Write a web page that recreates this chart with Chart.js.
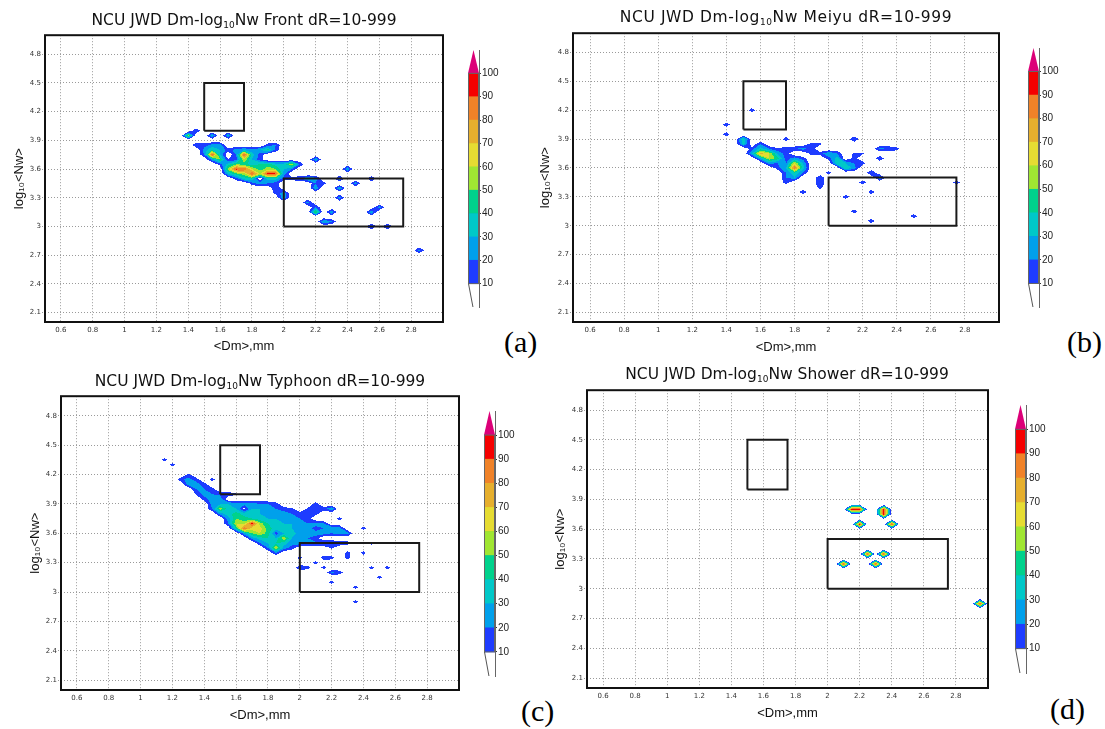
<!DOCTYPE html>
<html><head><meta charset="utf-8">
<script src="https://cdn.jsdelivr.net/npm/chart.js@4.4.1/dist/chart.umd.min.js"></script>
<style>
html,body{margin:0;padding:0;background:#fff;}
body{width:1105px;height:729px;position:relative;overflow:hidden;}
canvas{position:absolute;}
.title{position:absolute;white-space:nowrap;font-family:'DejaVu Sans',sans-serif;font-size:15.5px;color:#111;transform:translate(-50%,-50%);line-height:1;}
.title sub{font-size:9px;vertical-align:-3px;line-height:0;}
.tag{position:absolute;font-family:'Liberation Serif','Times New Roman',serif;font-size:30px;line-height:30px;color:#000;white-space:nowrap;}
</style></head><body>
<script>
// ---------- data ----------
const xTickValues = [0.6,0.8,1,1.2,1.4,1.6,1.8,2,2.2,2.4,2.6,2.8];
const yTickValues = [2.1,2.4,2.7,3,3.3,3.6,3.9,4.2,4.5,4.8];
const colorLevels = [10,20,30,40,50,60,70,80,90,100];
const levelColors = ['rgb(30,60,255)','rgb(0,160,235)','rgb(0,200,200)','rgb(0,210,140)','rgb(160,230,50)',
                     'rgb(230,220,50)','rgb(230,175,45)','rgb(240,130,40)','rgb(245,0,0)','rgb(220,0,120)'];
const boxUpper = [[1.5,4.0],[1.75,4.0],[1.75,4.5],[1.5,4.5],[1.5,4.0]];
const boxLower = [[2.0,3.0],[2.75,3.0],[2.75,3.5],[2.0,3.5],[2.0,3.0]];

// [Dm, log10Nw, percentage]
const frontCells = [
[1.40,3.95,55],[1.45,4.00,20],[1.55,3.95,30],[1.65,3.95,30],[1.45,3.85,20],
[1.50,3.85,15],[1.55,3.85,25],[1.60,3.85,25],[1.90,3.85,15],[1.95,3.85,20],
[1.50,3.80,25],[1.55,3.80,40],[1.60,3.80,30],[1.65,3.80,15],[1.70,3.80,25],[1.75,3.80,30],[1.80,3.80,25],[1.85,3.80,30],[1.90,3.80,45],[1.95,3.80,15],
[1.50,3.75,20],[1.55,3.75,95],[1.60,3.75,30],[1.70,3.75,20],[1.75,3.75,95],[1.80,3.75,35],[1.85,3.75,15],
[1.55,3.70,25],[1.60,3.70,50],[1.65,3.70,10],[1.70,3.70,15],[1.75,3.70,60],[1.80,3.70,30],[1.85,3.70,15],
[1.60,3.65,15],[1.65,3.65,35],[1.70,3.65,50],[1.75,3.65,45],[1.80,3.65,35],[1.85,3.65,40],[1.90,3.65,45],[1.95,3.65,35],[2.00,3.65,35],[2.05,3.65,60],[2.10,3.65,20],
[1.65,3.60,55],[1.70,3.60,95],[1.75,3.60,92],[1.80,3.60,60],[1.85,3.60,45],[1.90,3.60,55],[1.95,3.60,50],[2.00,3.60,30],[2.05,3.60,20],
[1.65,3.55,30],[1.70,3.55,45],[1.75,3.55,55],[1.80,3.55,92],[1.85,3.55,60],[1.90,3.55,98],[1.95,3.55,92],[2.00,3.55,25],
[1.70,3.50,15],[1.75,3.50,35],[1.80,3.50,40],[1.90,3.50,35],[1.95,3.50,35],[2.00,3.50,15],[2.05,3.50,15],[2.10,3.50,20],[2.15,3.50,30],[2.20,3.50,25],
[1.80,3.45,15],[1.85,3.45,25],[1.90,3.45,20],[1.95,3.45,15],[2.20,3.45,20],[2.25,3.45,15],
[1.95,3.40,20],[2.20,3.40,30],[1.95,3.35,15],[2.00,3.35,25],[2.00,3.30,30],
[2.20,3.70,30],[2.40,3.60,30],[2.35,3.50,25],[2.45,3.45,25],[2.55,3.50,22],[2.35,3.40,30],[2.35,3.30,25],
[2.15,3.25,25],[2.20,3.20,20],[2.20,3.15,55],[2.30,3.15,30],[2.25,3.05,30],[2.30,3.05,22],
[2.55,3.15,30],[2.60,3.20,25],[2.55,3.00,25],[2.65,3.00,25],[2.85,2.75,25]
];
const meiyuCells = [
[1.55,4.20,17],[1.40,4.05,17],[1.40,3.95,17],[1.50,3.90,40],[1.50,3.85,35],[1.75,3.90,17],[2.15,3.90,22],
[1.60,3.85,20],[1.90,3.85,14],[1.95,3.85,13],
[1.55,3.80,15],[1.60,3.80,35],[1.65,3.80,20],[1.70,3.80,12],[1.75,3.80,15],[1.80,3.80,18],[1.85,3.80,25],[1.90,3.80,15],
[1.55,3.75,30],[1.60,3.75,75],[1.65,3.75,60],[1.70,3.75,30],[1.75,3.75,15],[1.90,3.75,15],[1.95,3.75,15],[2.00,3.75,30],[2.05,3.75,20],[2.15,3.75,12],[2.20,3.75,12],
[1.60,3.70,30],[1.65,3.70,60],[1.70,3.70,45],[1.75,3.70,15],[1.80,3.70,25],[1.85,3.70,15],[2.00,3.70,15],[2.05,3.70,35],[2.15,3.70,15],
[1.65,3.65,25],[1.70,3.65,20],[1.75,3.65,20],[1.80,3.65,60],[1.85,3.65,30],[2.05,3.65,40],[2.10,3.65,30],[2.15,3.65,20],[2.20,3.65,15],
[1.70,3.60,15],[1.75,3.60,30],[1.80,3.60,90],[1.85,3.60,35],[2.10,3.60,40],[2.15,3.60,25],
[1.75,3.55,20],[1.80,3.55,40],[1.85,3.55,20],[2.00,3.55,15],
[1.75,3.50,20],[1.80,3.50,30],[1.95,3.50,20],[1.75,3.45,15],[1.95,3.45,20],[1.95,3.40,15],
[2.30,3.80,22],[2.35,3.80,20],[2.40,3.80,15],[2.30,3.70,20],[2.25,3.55,22],[2.30,3.50,28],
[1.85,3.35,17],[2.20,3.45,17],[2.25,3.35,17],[2.10,3.30,17],[2.15,3.15,17],[2.25,3.05,17],[2.50,3.10,17],[2.75,3.45,17]
];
const typhoonCells = [
[1.15,4.35,15],[1.20,4.30,15],[1.45,4.15,15],
[1.25,4.15,15],[1.30,4.20,12],[1.30,4.15,25],[1.30,4.10,25],[1.35,4.15,15],[1.35,4.10,25],[1.35,4.05,20],[1.35,4.00,12],[1.40,4.10,15],[1.40,4.05,20],[1.40,4.00,25],[1.40,3.95,15],
[1.45,4.05,15],[1.45,4.00,20],[1.45,3.95,25],[1.50,3.95,25],[1.50,4.00,18],[1.55,4.00,18],[1.60,4.00,12],
[1.45,3.90,25],[1.50,3.90,30],[1.55,3.90,30],[1.60,3.90,25],[1.65,3.90,25],[1.70,3.90,25],[1.75,3.90,20],[1.80,3.90,20],[1.85,3.90,15],[2.10,3.90,15],
[1.45,3.85,20],[1.50,3.85,55],[1.55,3.85,35],[1.60,3.85,30],[1.65,3.85,5],[1.70,3.85,30],[1.75,3.85,30],[1.80,3.85,25],[1.85,3.85,20],[1.90,3.85,15],[1.95,3.85,12],[2.05,3.85,12],[2.10,3.85,15],[2.15,3.85,15],[2.20,3.85,30],
[1.50,3.80,25],[1.55,3.80,35],[1.60,3.80,45],[1.65,3.80,35],[1.70,3.80,35],[1.75,3.80,30],[1.80,3.80,25],[1.85,3.80,25],[1.90,3.80,25],[1.95,3.80,20],[2.00,3.80,15],[2.05,3.80,20],[2.10,3.80,15],
[1.55,3.75,25],[1.60,3.75,50],[1.65,3.75,45],[1.70,3.75,40],[1.75,3.75,35],[1.80,3.75,30],[1.85,3.75,30],[1.90,3.75,25],[1.95,3.75,25],[2.00,3.75,20],[2.05,3.75,15],[2.25,3.75,15],
[1.55,3.70,20],[1.60,3.70,60],[1.65,3.70,55],[1.70,3.70,95],[1.75,3.70,55],[1.80,3.70,40],[1.85,3.70,30],[1.90,3.70,30],[1.95,3.70,30],[2.00,3.70,25],[2.05,3.70,20],[2.10,3.70,25],[2.15,3.70,20],
[1.60,3.65,40],[1.65,3.65,90],[1.70,3.65,65],[1.75,3.65,65],[1.80,3.65,45],[1.85,3.65,35],[1.90,3.65,30],[1.95,3.65,30],[2.00,3.65,25],[2.05,3.65,25],[2.10,3.65,15],[2.15,3.65,20],[2.20,3.65,30],[2.25,3.65,25],
[1.65,3.60,25],[1.70,3.60,50],[1.75,3.60,60],[1.80,3.60,45],[1.85,3.60,15],[1.90,3.60,30],[1.95,3.60,35],[2.00,3.60,25],[2.05,3.60,20],[2.10,3.60,25],[2.15,3.60,25],[2.20,3.60,20],[2.25,3.60,25],[2.30,3.60,25],
[1.70,3.55,25],[1.75,3.55,35],[1.80,3.55,40],[1.85,3.55,30],[1.90,3.55,60],[1.95,3.55,30],[2.00,3.55,25],[2.05,3.55,20],[2.10,3.55,15],
[1.75,3.50,20],[1.80,3.50,30],[1.85,3.50,40],[1.90,3.50,35],[1.95,3.50,25],[2.00,3.50,25],[2.05,3.50,22],[2.10,3.50,22],[2.15,3.50,25],[2.20,3.50,22],[2.25,3.50,20],[2.30,3.50,15],
[1.80,3.45,20],[1.85,3.45,60],[1.90,3.45,25],[1.95,3.45,15],[2.20,3.45,12],[1.85,3.40,20],
[2.40,3.65,15],[2.45,3.50,15],[2.00,3.35,15],[2.15,3.35,17],[2.20,3.35,15],[2.30,3.40,15],[2.30,3.35,15],[2.40,3.40,15],
[2.00,3.25,20],[2.05,3.25,15],[2.10,3.30,15],[2.15,3.25,15],[2.20,3.20,22],[2.25,3.20,16],[2.20,3.10,15],
[2.45,3.25,15],[2.55,3.25,15],[2.50,3.15,15],[2.35,3.05,15],[2.35,2.90,15]
];
const showerCells = [
[2.15,3.80,98],[2.20,3.80,98],[2.35,3.80,98],[2.35,3.75,98],[2.20,3.65,98],[2.40,3.65,98],
[2.25,3.35,98],[2.35,3.35,98],[2.10,3.25,98],[2.30,3.25,98],[2.95,2.85,98]
];
const panelNames = ['Front','Meiyu','Typhoon','Shower'];
const panelCells = [frontCells, meiyuCells, typhoonCells, showerCells];
const panelTags = ['(a)','(b)','(c)','(d)'];

// ---------- layout (positions only) ----------
const layouts = [
 {L:45, R:443, T:34, B:322, wY:33, hX:32, bar:{left:468, top:47, bottom:310}, title:{x:244,y:21,ls:0}, tag:{x:504,y:327}},
 {L:573,R:999, T:32, B:322, wY:35, hX:33, bar:{left:1028,top:45, bottom:310}, title:{x:786,y:18,ls:0.6}, tag:{x:1067,y:327}},
 {L:61, R:459, T:395,B:690, wY:33, hX:33, bar:{left:484, top:408,bottom:679}, title:{x:260,y:382,ls:0}, tag:{x:521,y:696}},
 {L:587,R:988, T:389,B:688, wY:34, hX:33, bar:{left:1015,top:402,bottom:676}, title:{x:787,y:375,ls:0}, tag:{x:1050,y:694}}
];

// ---------- helpers ----------
const rgbOf = s => s.match(/\d+/g).map(Number);
const CORNERS=[[0,0],[1,0],[1,1],[0,1]];
function inPoly(x,y,p){
  let c=false;
  for(let a=0,b=p.length-1;a<p.length;b=a++){
    const xa=p[a][0],ya=p[a][1],xb=p[b][0],yb=p[b][1];
    if((ya>y)!==(yb>y) && x < (xb-xa)*(y-ya)/(yb-ya)+xa) c=!c;
  }
  return c;
}
function polysFor(v,t){
  const P=CORNERS, ab=v.map(x=>x>=t);
  const cross=(e,n)=>{const f=(t-v[e])/(v[n]-v[e]); return [P[e][0]+f*(P[n][0]-P[e][0]), P[e][1]+f*(P[n][1]-P[e][1])];};
  const saddle = ab[0]===ab[2] && ab[1]===ab[3] && ab[0]!==ab[1];
  const center=(v[0]+v[1]+v[2]+v[3])/4;
  if(saddle && center<t){
    const res=[];
    for(let e=0;e<4;e++) if(ab[e]){ const n=(e+1)%4, p=(e+3)%4; res.push([P[e], cross(e,n), cross(p,e)]); }
    return res;
  }
  const poly=[];
  for(let e=0;e<4;e++){
    const n=(e+1)%4;
    if(ab[e]) poly.push(P[e]);
    if(ab[e]!==ab[n]) poly.push(cross(e,n));
  }
  return poly.length>=3?[poly]:[];
}
function renderField(chart, cells){
  const ca=chart.chartArea, xs=chart.scales.x, ys=chart.scales.y;
  const ox=Math.floor(ca.left), oy=Math.floor(ca.top);
  const W=Math.ceil(ca.right)-ox, H=Math.ceil(ca.bottom)-oy;
  const off=document.createElement('canvas'); off.width=W; off.height=H;
  const octx=off.getContext('2d'); const img=octx.createImageData(W,H); const d=img.data;
  const grid=new Map(), cellSet=new Set();
  for(const c of cells){
    const i=Math.round(c[0]*20), j=Math.round(c[1]*20);
    grid.set(i+','+j, c[2]);
    for(const di of [-1,0]) for(const dj of [-1,0]) cellSet.add((i+di)+','+(j+dj));
  }
  const g=(i,j)=>grid.get(i+','+j)||0;
  const rgb=levelColors.map(rgbOf);
  for(const k of cellSet){
    const [i,j]=k.split(',').map(Number);
    const v=[g(i,j),g(i+1,j),g(i+1,j+1),g(i,j+1)];
    const polys=colorLevels.map(t=>polysFor(v,t));
    const x0=xs.getPixelForValue(i/20), x1=xs.getPixelForValue((i+1)/20);
    const yb=ys.getPixelForValue(j/20), yt=ys.getPixelForValue((j+1)/20);
    const pxA=Math.max(Math.ceil(x0-0.5),ox), pxB=Math.min(Math.ceil(x1-0.5),ox+W);
    const pyA=Math.max(Math.ceil(yt-0.5),oy), pyB=Math.min(Math.ceil(yb-0.5),oy+H);
    for(let px=pxA;px<pxB;px++){
      const u=(px+0.5-x0)/(x1-x0);
      for(let py=pyA;py<pyB;py++){
        const w=(yb-(py+0.5))/(yb-yt);
        let lev=-1;
        for(let L=polys.length-1;L>=0 && lev<0;L--){
          for(const pg of polys[L]) if(inPoly(u,w,pg)){lev=L;break;}
        }
        if(lev>=0){
          const o=((py-oy)*W+(px-ox))*4;
          d[o]=rgb[lev][0]; d[o+1]=rgb[lev][1]; d[o+2]=rgb[lev][2]; d[o+3]=255;
        }
      }
    }
  }
  octx.putImageData(img,0,0);
  return {canvas:off, ox, oy};
}
function fieldPlugin(cells){
  return {
    id:'field',
    beforeDatasetsDraw(chart){
      const ca=chart.chartArea;
      const key=[ca.left,ca.top,ca.right,ca.bottom].join();
      if(!chart.$field || chart.$fieldKey!==key){ chart.$field=renderField(chart,cells); chart.$fieldKey=key; }
      const ctx=chart.ctx;
      ctx.save(); ctx.beginPath(); ctx.rect(ca.left,ca.top,ca.right-ca.left,ca.bottom-ca.top); ctx.clip();
      ctx.drawImage(chart.$field.canvas, chart.$field.ox, chart.$field.oy);
      ctx.restore();
    }
  };
}
const framePlugin = {
  id:'frame',
  afterDraw(chart){
    const ca=chart.chartArea, ctx=chart.ctx;
    ctx.save(); ctx.strokeStyle='#111'; ctx.lineWidth=2;
    ctx.strokeRect(ca.left, ca.top, ca.right-ca.left, ca.bottom-ca.top);
    ctx.restore();
  }
};
const colorbarPlugin = {
  id:'cbar',
  afterDraw(chart){
    const ca=chart.chartArea, ctx=chart.ctx, ys=chart.scales.y;
    const y100=ys.getPixelForValue(100), y110=ys.getPixelForValue(110), y10=ys.getPixelForValue(10), y0=ys.getPixelForValue(0);
    ctx.save();
    ctx.fillStyle=levelColors[9];
    ctx.beginPath(); ctx.moveTo(ca.left,y100); ctx.lineTo(ca.right,y100); ctx.lineTo((ca.left+ca.right)/2,y110); ctx.closePath(); ctx.fill();
    ctx.strokeStyle='#666'; ctx.lineWidth=1;
    ctx.strokeRect(ca.left+0.5, y100, ca.right-ca.left-1, y10-y100);
    ctx.strokeStyle='#555';
    ctx.beginPath(); ctx.moveTo(ca.left+0.5,y10); ctx.lineTo(ca.left+(ca.right-ca.left)*0.45,y0); ctx.stroke();
    ctx.restore();
  }
};

function addCanvas(left, top, w, h){
  const c=document.createElement('canvas');
  c.width=w; c.height=h; c.style.left=left+'px'; c.style.top=top+'px';
  c.style.width=w+'px'; c.style.height=h+'px';
  document.body.appendChild(c);
  return c;
}
function addDiv(cls, html, x, y, extra){
  const d=document.createElement('div'); d.className=cls; d.innerHTML=html;
  d.style.left=x+'px'; d.style.top=y+'px';
  if(extra) Object.assign(d.style, extra);
  document.body.appendChild(d);
}

Chart.defaults.font.family = "'DejaVu Sans', sans-serif";

layouts.forEach((lay, idx) => {
  const cells = panelCells[idx];
  const pad = 4;
  const cl = lay.L - lay.wY - pad, ct = lay.T - pad;
  const cw = lay.R + pad - cl, ch = lay.B + lay.hX + pad - ct;
  const cv = addCanvas(cl, ct, cw, ch);
  const gridOpts = {color:'#9a9a9a', lineWidth:1, drawTicks:true, tickLength:3, tickColor:'#9a9a9a', tickBorderDash:[1,2]};
  const tickFont = {family:"'DejaVu Sans', sans-serif", size:7};
  const titleFont = {family:"'Liberation Sans', Arial, sans-serif", size:13};
  new Chart(cv, {
    type:'scatter',
    data:{datasets:[
      {data:boxUpper.map(p=>({x:p[0],y:p[1]})), showLine:true, borderColor:'#1a1a1a', borderWidth:2, pointRadius:0, fill:false, tension:0},
      {data:boxLower.map(p=>({x:p[0],y:p[1]})), showLine:true, borderColor:'#1a1a1a', borderWidth:2, pointRadius:0, fill:false, tension:0}
    ]},
    options:{
      responsive:false, animation:false, events:[], devicePixelRatio:1,
      layout:{padding:{left:pad, top:pad, right:pad, bottom:pad}},
      plugins:{legend:{display:false}, tooltip:{enabled:false}, title:{display:false}},
      scales:{
        x:{type:'linear', min:0.5, max:3.0,
           afterBuildTicks:s=>{ s.ticks = xTickValues.map(v=>({value:v})); },
           afterFit:s=>{ s.height = lay.hX; },
           grid:gridOpts, border:{display:false, dash:[1,2]},
           ticks:{font:tickFont, color:'#333', padding:1, maxRotation:0, autoSkip:false, callback:v=>String(+Number(v).toFixed(1))},
           title:{display:true, text:'<Dm>,mm', font:titleFont, color:'#111', padding:0}},
        y:{type:'linear', min:2.0, max:5.0,
           afterBuildTicks:s=>{ s.ticks = yTickValues.map(v=>({value:v})); },
           afterFit:s=>{ s.width = lay.wY; },
           grid:gridOpts, border:{display:false, dash:[1,2]},
           ticks:{font:tickFont, color:'#333', padding:1, autoSkip:false, callback:v=>String(+Number(v).toFixed(1))},
           title:{display:true, text:'log\u2081\u2080<Nw>', font:titleFont, color:'#111', padding:0}}
      }
    },
    plugins:[fieldPlugin(cells), framePlugin]
  });

  // colorbar
  const b = lay.bar, bw = 11, axisW = 30;
  const bcv = addCanvas(b.left, b.top - pad, bw + axisW, b.bottom - b.top + 2*pad);
  new Chart(bcv, {
    type:'bar',
    data:{labels:[''], datasets: colorLevels.slice(0,9).map((lv,k)=>({
      data:[[lv, colorLevels[k+1]]], backgroundColor:levelColors[k], borderWidth:0,
      barPercentage:1, categoryPercentage:1, grouped:false
    }))},
    options:{
      responsive:false, animation:false, events:[], devicePixelRatio:1,
      layout:{padding:{left:0, right:0, top:pad, bottom:pad}},
      plugins:{legend:{display:false}, tooltip:{enabled:false}},
      scales:{
        x:{display:false},
        y:{position:'right', min:0, max:110, z:1,
           afterBuildTicks:s=>{ s.ticks = colorLevels.map(v=>({value:v})); },
           afterFit:s=>{ s.width = axisW; },
           grid:{color:'#222', lineWidth:1, drawOnChartArea:true, drawTicks:true, tickLength:2, tickColor:'#333'},
           border:{display:true, color:'#666', width:1},
           ticks:{font:{family:"'Liberation Sans', Arial, sans-serif", size:10}, color:'#222', padding:1, autoSkip:false}}
      }
    },
    plugins:[colorbarPlugin]
  });

  const ttl = 'NCU JWD Dm-log<sub>10</sub>Nw ' + panelNames[idx] + ' dR=10-999';
  addDiv('title', ttl, lay.title.x, lay.title.y, {letterSpacing: lay.title.ls + 'px'});
  addDiv('tag', panelTags[idx], lay.tag.x, lay.tag.y);
});
</script>
</body></html>
